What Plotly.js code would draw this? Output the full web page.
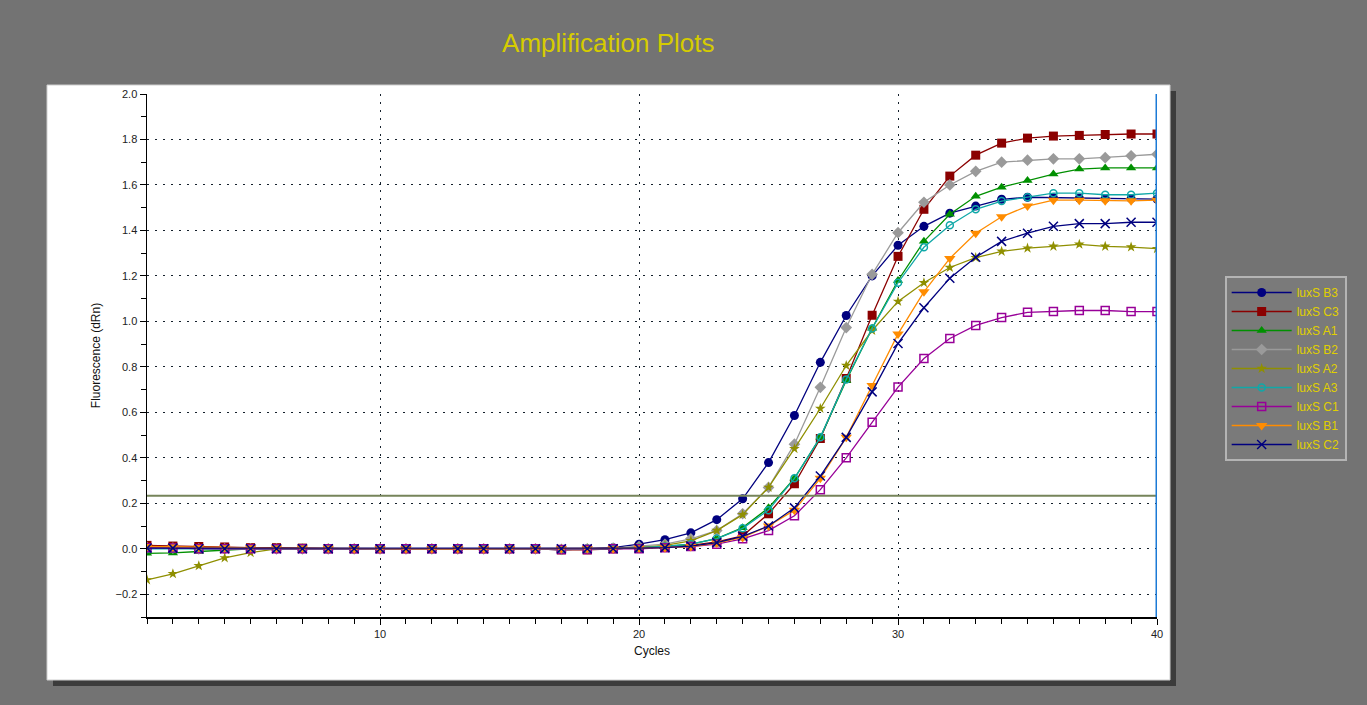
<!DOCTYPE html>
<html>
<head>
<meta charset="utf-8">
<script src="https://cdn.plot.ly/plotly-3.0.1.min.js"></script>
<style>html,body{margin:0;padding:0;background:#737373;}#chart{width:1367px;height:705px;}</style>
</head>
<body>
<div id="chart"></div>
<script>
var cycles = [1,2,3,4,5,6,7,8,9,10,11,12,13,14,15,16,17,18,19,20,21,22,23,24,25,26,27,28,29,30,31,32,33,34,35,36,37,38,39,40];

var luxS_B3 = [0.005,0.005,0,0,0,0,0,0,0,0,0,0,0,0,0,0,-0.005,0,0.005,0.02,0.04,0.07,0.128,0.22,0.379,0.586,0.82,1.026,1.20,1.335,1.418,1.476,1.507,1.537,1.546,1.544,1.542,1.54,1.54,1.538];
var luxS_C3 = [0.015,0.012,0.01,0.008,0.005,0.005,0.003,0,0,0,0,0,0,0,0,0,-0.005,-0.005,0,0.005,0.01,0.015,0.03,0.057,0.154,0.286,0.485,0.749,1.027,1.286,1.493,1.639,1.731,1.784,1.806,1.815,1.818,1.822,1.824,1.824];
var luxS_A1 = [-0.02,-0.018,-0.012,-0.005,0,0,0,0,0,0,0,0,0,0,0,0,-0.003,-0.003,0,0.005,0.01,0.02,0.045,0.093,0.18,0.31,0.49,0.74,0.97,1.18,1.352,1.471,1.55,1.59,1.62,1.648,1.67,1.675,1.675,1.675];
var luxS_B2 = [0.005,0.003,0,0,0,0,0,0,0,0,0,0,0,0,0,0,-0.003,0,0.003,0.01,0.02,0.044,0.08,0.154,0.27,0.46,0.71,0.973,1.207,1.39,1.524,1.60,1.66,1.70,1.709,1.715,1.715,1.72,1.728,1.735];
var luxS_A2 = [-0.137,-0.11,-0.075,-0.04,-0.017,0,0,0,0,0,0,0,0,0,0,0,-0.003,0,0,0.005,0.015,0.035,0.08,0.15,0.27,0.44,0.617,0.806,0.96,1.088,1.17,1.237,1.28,1.308,1.322,1.33,1.339,1.33,1.327,1.32];
var luxS_A3 = [0,0,0,0,0,0,0,0,0,0,0,0,0,0,0,0,-0.003,0,0,0.005,0.01,0.02,0.045,0.09,0.17,0.31,0.49,0.745,0.969,1.17,1.326,1.423,1.493,1.529,1.546,1.564,1.564,1.557,1.557,1.564];
var luxS_C1 = [0.005,0.003,0,0,0,0,0,0,0,0,0,0,0,0,0,0,-0.003,-0.003,0,0,0.005,0.01,0.02,0.044,0.08,0.145,0.26,0.40,0.556,0.711,0.837,0.925,0.982,1.017,1.04,1.044,1.048,1.048,1.043,1.043];
var luxS_B1 = [0.01,0.008,0.006,0.005,0.004,0.003,0.003,0.002,0,0,0,0,0,0,0,0,0,0,0,0.003,0.005,0.01,0.025,0.05,0.1,0.17,0.31,0.49,0.718,0.945,1.13,1.277,1.388,1.46,1.507,1.533,1.533,1.53,1.53,1.533];
var luxS_C2 = [0.003,0.003,0,0,0,0,0,0,0,0,0,0,0,0,0,0,0,0,0,0.003,0.005,0.012,0.027,0.055,0.1,0.18,0.32,0.49,0.69,0.903,1.06,1.19,1.282,1.352,1.388,1.418,1.43,1.43,1.436,1.436];

var seriesNames = ["luxS B3","luxS C3","luxS A1","luxS B2","luxS A2","luxS A3","luxS C1","luxS B1","luxS C2"];
var seriesValues = [luxS_B3,luxS_C3,luxS_A1,luxS_B2,luxS_A2,luxS_A3,luxS_C1,luxS_B1,luxS_C2];
var lineColors = ["#00007f","#8b0000","#009000","#9a9a9a","#8f8f00","#10a8a8","#980098","#ff8c00","#00007f"];
var markerSymbols = ["circle","square","triangle-up","diamond","star","circle-open","square-open","triangle-down","x-thin-open"];
var markerSizes = [9,9,9,9,8,7,8,10,9];

var thresholdValue = 0.233;

var traces = seriesNames.map(function(name,i){
  return {
    x: cycles, y: seriesValues[i], name: name, type: 'scatter', mode: 'lines+markers',
    line: {color: lineColors[i], width: 1.3},
    marker: {symbol: markerSymbols[i], size: markerSizes[i], color: lineColors[i],
             line: {color: lineColors[i], width: (markerSymbols[i].indexOf('open')>=0 ? 1.5 : 0)}}
  };
});

var layout = {
  width: 1367, height: 705,
  paper_bgcolor: '#737373',
  plot_bgcolor: '#99c5d5',
  margin: {l: 147, r: 210, t: 94, b: 88},
  font: {family: 'Liberation Sans, Arial, sans-serif', size: 11, color: '#222'},
  title: {text: 'Amplification Plots', font: {family: 'Liberation Sans, Arial, sans-serif', size: 26, color: '#d6cc00'},
          xref: 'container', yref: 'container', x: 0.445, xanchor: 'center', y: 0.939, yanchor: 'middle'},
  showlegend: true,
  legend: {x: 1.067, xanchor: 'left', y: 0.652, yanchor: 'top', bgcolor: '#7a7a7a', bordercolor: '#b4b4b4', borderwidth: 2,
           font: {family: 'Liberation Sans, Arial, sans-serif', size: 12, color: '#e0d000'}, tracegroupgap: 0, itemwidth: 60},
  xaxis: {range: [1, 40], tickvals: [10,20,30,40], ticktext: ['10','20','30','40'], ticks: 'outside', ticklen: 6, tickcolor: '#000',
          showline: true, linecolor: '#000', linewidth: 1.5, showgrid: true, gridcolor: '#14202c', griddash: '2px,6px', gridwidth: 1,
          zeroline: false, tickfont: {size: 11, color: '#222'},
          minor: {dtick: 1, ticks: 'outside', ticklen: 5, tickcolor: '#000', showgrid: false},
          title: {text: 'Cycles', font: {size: 12, color: '#111'}, standoff: 8}},
  yaxis: {range: [-0.3, 2.0], dtick: 0.2, tick0: 0, tickformat: '.1f', ticks: 'outside', ticklen: 6, tickcolor: '#000',
          showline: true, linecolor: '#000', linewidth: 1.5, showgrid: true, gridcolor: '#14202c', griddash: '2px,6px', gridwidth: 1,
          zeroline: false, tickfont: {size: 11, color: '#222'},
          minor: {dtick: 0.1, ticks: 'outside', ticklen: 5, tickcolor: '#000', showgrid: false},
          title: {text: 'Fluorescence (dRn)', font: {size: 12, color: '#111'}, standoff: 12}},
  shapes: [
    {type: 'rect', xref: 'paper', yref: 'paper', layer: 'below',
     x0: (53-147)/1010, x1: (1176-147)/1010, y0: (617-686)/523, y1: (617-91)/523,
     fillcolor: '#3c3c3c', line: {width: 0}},
    {type: 'rect', xref: 'paper', yref: 'paper', layer: 'below',
     x0: (47-147)/1010, x1: (1170-147)/1010, y0: (617-680)/523, y1: (617-85)/523,
     fillcolor: '#ffffff', line: {color: '#cfcfcf', width: 1}},
    {type: 'line', xref: 'paper', yref: 'y', x0: 0, x1: 1, y0: thresholdValue, y1: thresholdValue,
     line: {color: '#76845a', width: 2}},
    {type: 'line', xref: 'x', yref: 'paper', x0: 40, x1: 40, y0: 0, y1: 1,
     line: {color: '#1c7ad6', width: 3}}
  ]
};

Plotly.newPlot('chart', traces, layout, {displayModeBar: false, staticPlot: true});
</script>
</body>
</html>
